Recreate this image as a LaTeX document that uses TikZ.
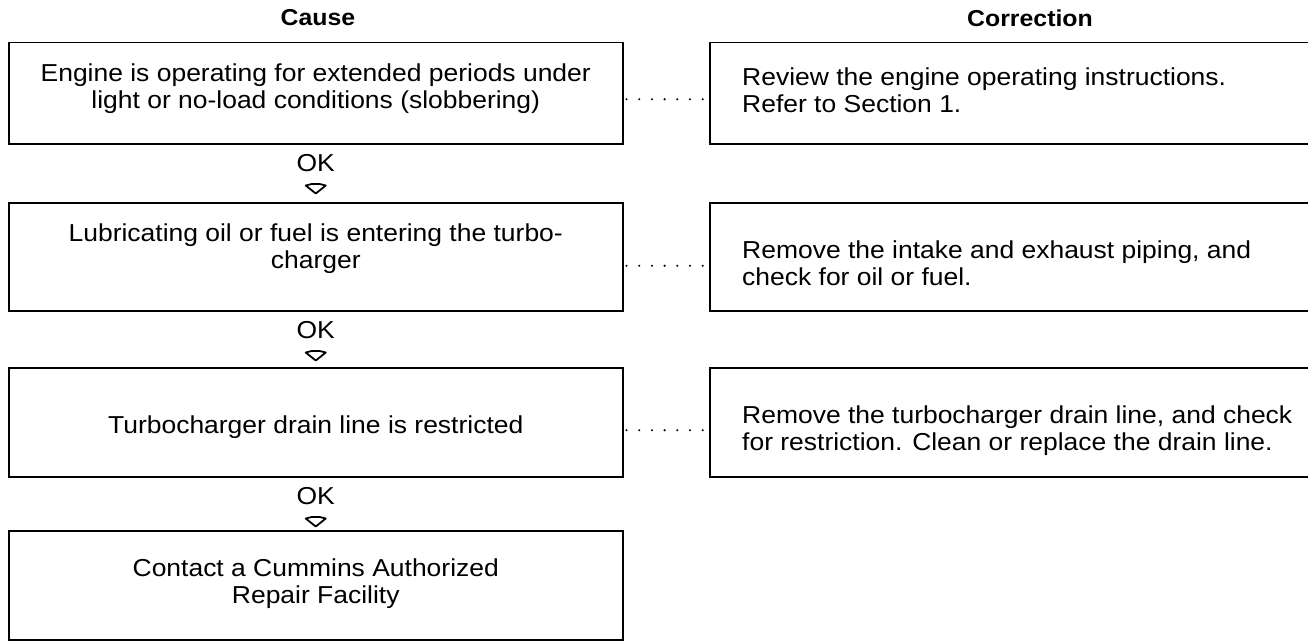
\documentclass[tikz,border=0pt]{standalone}
\usepackage{fontspec}
\setmainfont[FakeStretch=1.08]{Liberation Sans}
\usetikzlibrary{calc}
\begin{document}
\begin{tikzpicture}[x=1pt,y=-1pt,
  every node/.style={font=\fontsize{24.5}{27}\selectfont},
  cbox/.style={draw, line width=1.5pt, rectangle, inner sep=0pt, anchor=north west, minimum width=614pt},
  rbox/.style={draw, line width=1.5pt, rectangle, inner sep=0pt, anchor=north west, minimum width=640pt},
  ltext/.style={align=center, inner sep=0pt},
  rtext/.style={align=left, inner sep=0pt, anchor=west},
  head/.style={font=\fontsize{23}{25}\selectfont\bfseries, inner sep=0pt},
  oklab/.style={inner sep=0pt},
  dotline/.style={line width=2.3pt, dash pattern=on 0pt off 12.7pt, line cap=round},
  arrowmark/.style={line width=1.8pt, line join=round, fill=white}
]
\useasboundingbox (0,0) rectangle (1308,642);

\node[head] (hc) at (318,18) {Cause};
\node[head] (hr) at (1030,18) {Correction};

% cause boxes
\node[cbox, minimum height=101pt] (c1) at (8,42) {};
\node[cbox, minimum height=108pt] (c2) at (8,202) {};
\node[cbox, minimum height=109pt] (c3) at (8,367) {};
\node[cbox, minimum height=109pt] (c4) at (8,530) {};

% correction boxes
\node[rbox, minimum height=101pt] (r1) at (709,42) {};
\node[rbox, minimum height=108pt] (r2) at (709,202) {};
\node[rbox, minimum height=109pt] (r3) at (709,367) {};

% texts
\node[ltext] (tc1) at ($(c1.center)+(0,-5)$) {Engine is operating for extended periods under\\light or no-load conditions (slobbering)};
\node[ltext] (tc2) at ($(c2.center)+(0,-8)$) {Lubricating oil or fuel is entering the turbo-\\charger};
\node[ltext] (tc3) at ($(c3.center)+(0,5)$) {Turbocharger drain line is restricted};
\node[ltext] (tc4) at ($(c4.center)+(0,-2)$) {Contact a Cummins Authorized\\Repair Facility};

\node[rtext] (tr1) at ($(r1.west)+(33,-3)$) {Review the engine operating instructions.\\Refer to Section 1.};
\node[rtext] (tr2) at ($(r2.west)+(33,6)$) {Remove the intake and exhaust piping, and\\check for oil or fuel.};
\node[rtext] (tr3) at ($(r3.west)+(33,8)$) {Remove the turbocharger drain line, and check\\for restriction. Clean or replace the drain line.};

% dotted connectors
\draw[dotline] ($(c1.east)+(3,6)$) coordinate (d1a) -- ($(r1.west)+(-5,6)$) coordinate (d1b);
\draw[dotline] ($(c2.east)+(3,9)$) coordinate (d2a) -- ($(r2.west)+(-5,9)$) coordinate (d2b);
\draw[dotline] ($(c3.east)+(3,8)$) coordinate (d3a) -- ($(r3.west)+(-5,8)$) coordinate (d3b);

% OK labels and arrow marks
\foreach \a/\b in {c1/c2, c2/c3, c3/c4} {
  \node[oklab] (ok\a) at ($(\a.south)+(0,19)$) {OK};
  \coordinate (m\a) at ($(\a.south)+(0,44)$);
  \draw[arrowmark] ($(m\a)+(-10,-3)$) -- ($(m\a)+(-4,-4.5)$) -- ($(m\a)+(4,-4.5)$) -- ($(m\a)+(10,-3)$) -- ($(m\a)+(0,5)$) -- cycle;
}
\end{tikzpicture}
\end{document}
